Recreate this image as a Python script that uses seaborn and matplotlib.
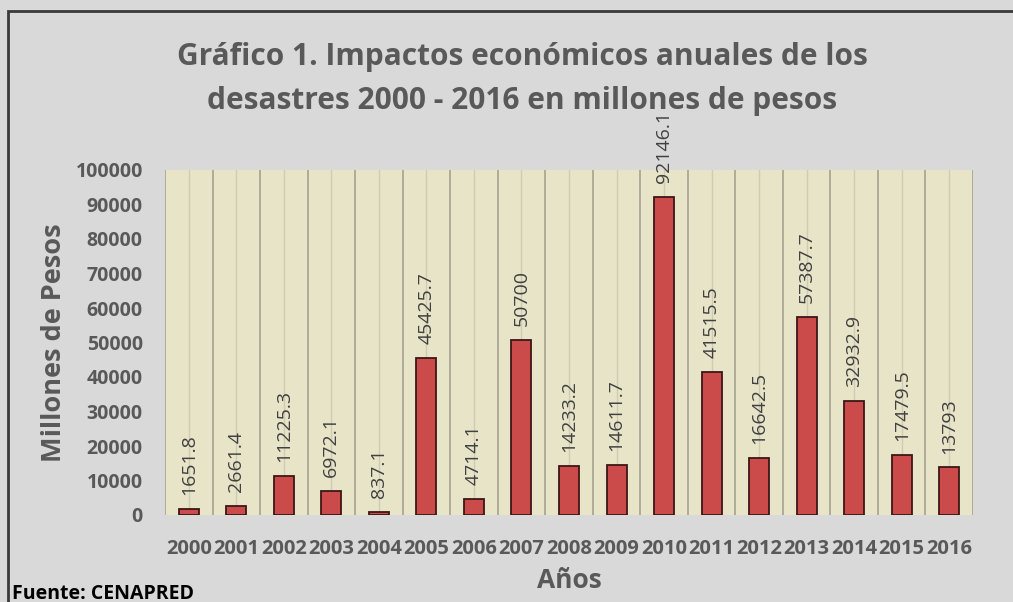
import numpy as np
import pandas as pd
import matplotlib
matplotlib.use("Agg")
import matplotlib.pyplot as plt
import seaborn as sns
from matplotlib.patches import Rectangle

years = ["2000", "2001", "2002", "2003", "2004", "2005", "2006", "2007", "2008",
         "2009", "2010", "2011", "2012", "2013", "2014", "2015", "2016"]
values = [1651.8, 2661.4, 11225.3, 6972.1, 837.1, 45425.7, 4714.1, 50700, 14233.2,
          14611.7, 92146.1, 41515.5, 16642.5, 57387.7, 32932.9, 17479.5, 13793]
labels = ["1651.8", "2661.4", "11225.3", "6972.1", "837.1", "45425.7", "4714.1", "50700",
          "14233.2", "14611.7", "92146.1", "41515.5", "16642.5", "57387.7", "32932.9",
          "17479.5", "13793"]
yticks = [0, 10000, 20000, 30000, 40000, 50000, 60000, 70000, 80000, 90000, 100000]

title = "Gráfico 1. Impactos económicos anuales de los\ndesastres 2000 - 2016 en millones de pesos"

sns.set_style("white")
plt.rcParams['font.family'] = ['Open Sans', 'DejaVu Sans']

df = pd.DataFrame({"year": years, "value": values})

BG = "#D9D9D9"
PLOT_BG = "#E7E4C8"
GRAY = "#595959"

fig = plt.figure(figsize=(10.13, 6.02), dpi=100, facecolor=BG)
ax = fig.add_axes([165/1013, 1-515/602, (973-165)/1013, (515-170)/602])
ax.set_facecolor(PLOT_BG)

sns.barplot(data=df, x="year", y="value", ax=ax, color="#CB4A4A", width=0.42,
            edgecolor="#3B1616", linewidth=1.3, saturation=1)

ax.set_xlim(-0.5, len(years) - 0.5)
ax.set_ylim(0, 100000)
ax.set_yticks(yticks)
ax.set_yticklabels([str(t) for t in yticks], fontsize=14, fontweight="bold", color=GRAY)
ax.set_xticks(range(len(years)))
ax.set_xticklabels(years, fontsize=14.5, fontweight="bold", color=GRAY)
ax.set_xticks(np.arange(-0.5, len(years)), minor=True)
ax.tick_params(axis="both", which="both", length=0)
ax.tick_params(axis="x", pad=17)
ax.tick_params(axis="y", pad=16)
ax.set_axisbelow(True)
ax.grid(which="major", axis="x", color="#CFCCB4", linewidth=1.0)
ax.grid(which="minor", axis="x", color="#A9A693", linewidth=1.3)
ax.grid(which="major", axis="y", visible=False)
for s in ["top", "right", "bottom", "left"]:
    ax.spines[s].set_visible(False)

for i, (v, lab) in enumerate(zip(values, labels)):
    ax.annotate(lab, xy=(i, v), xytext=(0, 10), textcoords="offset points",
                rotation=90, ha="center", va="bottom", fontsize=14,
                color="#404040", annotation_clip=False)

ax.set_xlabel("Años", fontsize=19, fontweight="bold", color=GRAY, labelpad=6)
ax.set_ylabel("Millones de Pesos", fontsize=19.5, fontweight="bold", color=GRAY, labelpad=6)

fig.text(522/1013, 1-42/602, title, ha="center", va="top", fontsize=21.5,
         fontweight="bold", color=GRAY, linespacing=1.6)

fig.text(12/1013, 1-584/602, "Fuente: CENAPRED", ha="left", va="top", fontsize=14,
         fontweight="bold", color="black")

fig.add_artist(Rectangle((8/1013, -0.1), 1.2, 1 - 11/602 + 0.1, transform=fig.transFigure,
                         fill=False, edgecolor="#3A3A3A", linewidth=2))

fig.savefig("out.png", dpi=100, facecolor=BG)
